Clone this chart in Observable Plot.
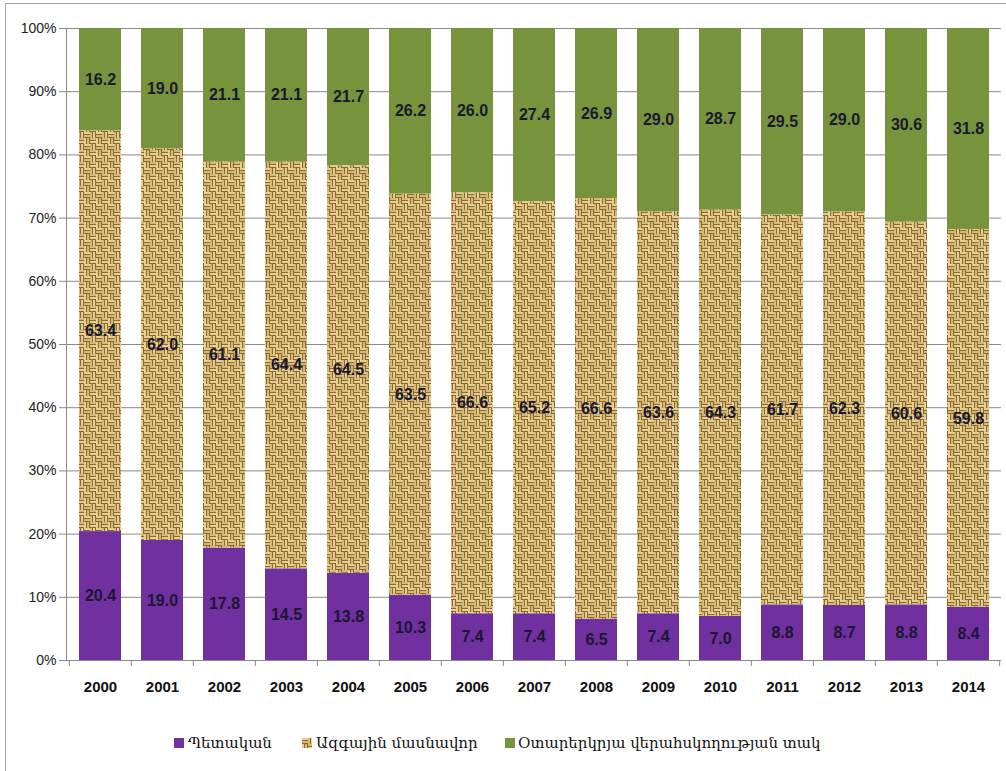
<!DOCTYPE html>
<html>
<head>
<meta charset="utf-8">
<script src="https://cdn.jsdelivr.net/npm/d3@7"></script>
<script src="https://cdn.jsdelivr.net/npm/@observablehq/plot@0.6"></script>
<style>
  body { margin: 0; background: #fff; }
  #wrap { position: relative; width: 1006px; height: 771px; overflow: hidden; background: #fff; }
  #border { position: absolute; left: 5px; top: 3px; width: 1100px; height: 1000px; border: 1px solid #a6a6a6; pointer-events: none; }
  #chart { position: absolute; left: 0; top: 0; }
  .sw { position: absolute; top: 738px; width: 10px; height: 10px; }
  .lt { position: absolute; top: 732px; line-height: 22px; font-family: "DejaVu Serif", "DejaVu Sans", serif; font-size: 15px; color: #111; white-space: nowrap; }
</style>
</head>
<body>
<div id="wrap">
  <div id="chart"></div>
  <div id="legend"></div>
  <div id="border"></div>
</div>
<script>
const years = ["2000","2001","2002","2003","2004","2005","2006","2007","2008","2009","2010","2011","2012","2013","2014"];
const seriesNames = ["Պետական", "Ազգային մասնավոր", "Օտարերկրյա վերահսկողության տակ"];
const stateShare   = [20.4, 19.0, 17.8, 14.5, 13.8, 10.3, 7.4, 7.4, 6.5, 7.4, 7.0, 8.8, 8.7, 8.8, 8.4];
const privateShare = [63.4, 62.0, 61.1, 64.4, 64.5, 63.5, 66.6, 65.2, 66.6, 63.6, 64.3, 61.7, 62.3, 60.6, 59.8];
const foreignShare = [16.2, 19.0, 21.1, 21.1, 21.7, 26.2, 26.0, 27.4, 26.9, 29.0, 28.7, 29.5, 29.0, 30.6, 31.8];
const yTicks = [0, 10, 20, 30, 40, 50, 60, 70, 80, 90, 100];
const seriesColors = ["#7030A0", "url(#burlap)", "#77933C"];

const values = [stateShare, privateShare, foreignShare];
const data = years.flatMap((yr, i) => seriesNames.map((s, k) => ({ year: yr, series: s, value: values[k][i] })));

const plot = Plot.plot({
  width: 1006,
  height: 715,
  marginTop: 28,
  marginBottom: 55,
  marginLeft: 66,
  marginRight: 5,
  x: { domain: years, paddingInner: 0.33, paddingOuter: 0.165, label: null },
  y: { domain: [0, 100], label: null },
  color: { domain: seriesNames, range: seriesColors },
  marks: [
    Plot.gridY(yTicks, { stroke: "#8a8a8a", strokeOpacity: 1 }),
    Plot.barY(data, { x: "year", y: "value", fill: "series", z: "series" }),
    Plot.text(data, Plot.stackY({ x: "year", y: "value", z: "series", text: d => d.value.toFixed(1),
      fill: "#1a1830", fontWeight: "bold", fontSize: 16, fontFamily: "'Liberation Sans Narrow', 'Liberation Sans', sans-serif" })),
    Plot.ruleY([0], { stroke: "#8a8a8a" }),
    Plot.frame({ anchor: "left", stroke: "#8a8a8a" }),
    Plot.axisY({ ticks: yTicks, tickFormat: d => d + "%", tickSize: 7, tickPadding: 3, stroke: "#8a8a8a", fill: "#222",
      fontSize: 14, fontFamily: "'Liberation Sans', sans-serif" }),
    Plot.axisX({ tickSize: 0, tickPadding: 21, fill: "#111", fontWeight: "bold", fontSize: 15,
      fontFamily: "'Liberation Sans Narrow', 'Liberation Sans', sans-serif" }),
    Plot.axisX({ tickSize: 6, dx: -31.17, tickFormat: () => "", stroke: "#8a8a8a" }),
    Plot.axisX({ ticks: ["2014"], tickSize: 6, dx: 31.17, tickFormat: () => "", stroke: "#8a8a8a" })
  ]
});

// burlap-like basket-weave texture for the private-ownership series
const patternDef = (id) => `
<pattern id="${id}" patternUnits="userSpaceOnUse" width="12" height="12">
  <rect width="12" height="12" fill="#C9A962"/>
  <rect x="0" y="0" width="6" height="2" fill="#E6CF94"/>
  <rect x="0" y="2" width="6" height="1" fill="#8C6A2C"/>
  <rect x="0" y="3" width="6" height="2" fill="#D4B87A"/>
  <rect x="0" y="5" width="6" height="1" fill="#8C6A2C"/>
  <rect x="6" y="0" width="2" height="6" fill="#D4B87A"/>
  <rect x="8" y="0" width="1" height="6" fill="#8C6A2C"/>
  <rect x="9" y="0" width="2" height="6" fill="#E6CF94"/>
  <rect x="11" y="0" width="1" height="6" fill="#8C6A2C"/>
  <rect x="0" y="6" width="2" height="6" fill="#E6CF94"/>
  <rect x="2" y="6" width="1" height="6" fill="#8C6A2C"/>
  <rect x="3" y="6" width="2" height="6" fill="#D4B87A"/>
  <rect x="5" y="6" width="1" height="6" fill="#8C6A2C"/>
  <rect x="6" y="6" width="6" height="2" fill="#D4B87A"/>
  <rect x="6" y="8" width="6" height="1" fill="#8C6A2C"/>
  <rect x="6" y="9" width="6" height="2" fill="#E6CF94"/>
  <rect x="6" y="11" width="6" height="1" fill="#8C6A2C"/>
</pattern>`;
const ns = "http://www.w3.org/2000/svg";
const defs = document.createElementNS(ns, "defs");
defs.innerHTML = patternDef("burlap");
plot.insertBefore(defs, plot.firstChild);
document.getElementById("chart").appendChild(plot);

// legend
const legend = document.getElementById("legend");
const swLeft = [174, 302, 505];
const txtLeft = [188, 316, 518];
seriesNames.forEach((s, k) => {
  const sw = document.createElementNS(ns, "svg");
  sw.setAttribute("width", 10); sw.setAttribute("height", 10);
  sw.setAttribute("class", "sw");
  sw.style.left = swLeft[k] + "px";
  sw.innerHTML = `<defs>${k === 1 ? patternDef("burlapLegend") : ""}</defs><rect width="10" height="10" fill="${k === 1 ? "url(#burlapLegend)" : seriesColors[k]}"/>`;
  legend.appendChild(sw);
  const t = document.createElement("div");
  t.className = "lt";
  t.style.left = txtLeft[k] + "px";
  t.textContent = s;
  legend.appendChild(t);
});
</script>
</body>
</html>
